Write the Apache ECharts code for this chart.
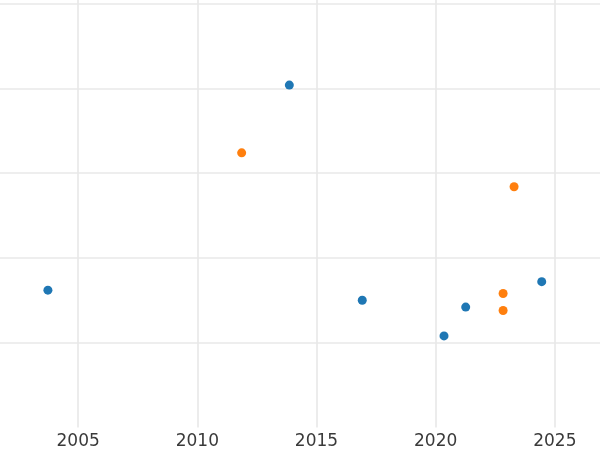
<!DOCTYPE html>
<html>
<head>
<meta charset="utf-8">
<script src="https://cdn.jsdelivr.net/npm/echarts@6/dist/echarts.min.js"></script>
<style>
html,body{margin:0;padding:0;background:#fff;width:600px;height:450px;overflow:hidden;position:relative;}
#c{position:absolute;left:-41.3px;top:-80.8px;width:715px;height:530.8px;}
</style>
</head>
<body>
<div id="c"></div>
<script>
// Series A (blue): [year, value]
const seriesAYears = [2013.86, 2003.73, 2016.92, 2020.35, 2021.26, 2024.45];
const seriesAValues = [4.04, 1.62, 1.50, 1.08, 1.42, 1.72];
// Series B (orange)
const seriesBYears = [2011.86, 2023.29, 2022.83, 2022.83];
const seriesBValues = [3.24, 2.84, 1.58, 1.38];

const xTickStart = 2000, xTickEnd = 2030, xTickStep = 5;
const yMin = 0, yMax = 6, yStep = 1;

const zip = (xs, ys) => xs.map((x, i) => [x, ys[i]]);

const chart = echarts.init(document.getElementById('c'), null, {renderer: 'canvas'});
const gridLine = {show: true, lineStyle: {color: '#e8e8e8', width: 1.6}};
chart.setOption({
  animation: false,
  backgroundColor: '#ffffff',
  grid: {left: 0, right: 0, top: 0, bottom: 22.6, containLabel: false, outerBoundsMode: 'none'},
  xAxis: {
    type: 'value', min: xTickStart, max: xTickEnd, interval: xTickStep,
    axisLine: {show: false}, axisTick: {show: false},
    axisLabel: {color: '#3a3a3a', fontSize: 17, fontFamily: 'DejaVu Sans', margin: 6,
      formatter: v => String(v)},
    splitLine: gridLine
  },
  yAxis: {
    type: 'value', min: yMin, max: yMax, interval: yStep,
    axisLine: {show: false}, axisTick: {show: false}, axisLabel: {show: false},
    splitLine: Object.assign({showMinLine: false, showMaxLine: false}, gridLine)
  },
  series: [
    {type: 'scatter', data: zip(seriesAYears, seriesAValues), symbolSize: 9, itemStyle: {color: '#1f77b4', opacity: 1}},
    {type: 'scatter', data: zip(seriesBYears, seriesBValues), symbolSize: 9, itemStyle: {color: '#ff7f0e', opacity: 1}}
  ]
});
</script>
</body>
</html>
